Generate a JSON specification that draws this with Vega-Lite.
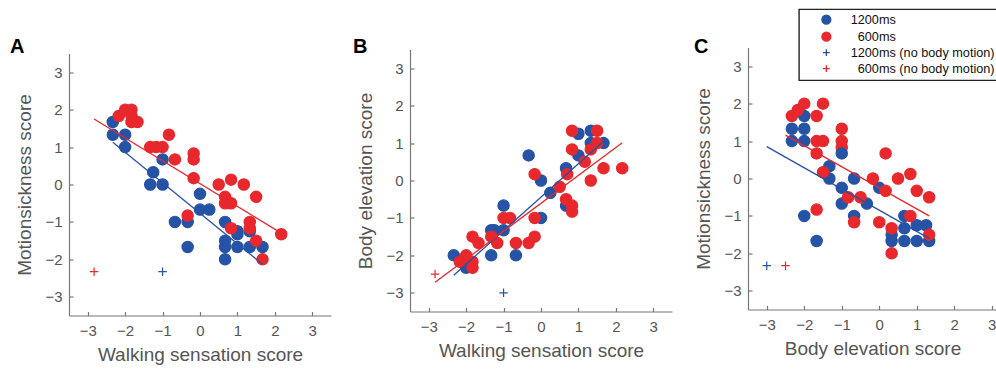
{
  "$schema": "https://vega.github.io/schema/vega-lite/v6.json",
  "padding": {"left": 10, "top": 8.5, "right": 0, "bottom": 0},
  "background": "white",
  "spacing": 22,
  "datasets": {
    "pts": [
      {"p":"A","g":"1200ms","x":-2.33,"y":1.67},{"p":"A","g":"1200ms","x":-2.33,"y":1.33},{"p":"A","g":"1200ms","x":-2,"y":1.33},{"p":"A","g":"1200ms","x":-2,"y":1},{"p":"A","g":"1200ms","x":-1,"y":0.67},{"p":"A","g":"1200ms","x":-1.25,"y":0.33},{"p":"A","g":"1200ms","x":-1.33,"y":0},{"p":"A","g":"1200ms","x":-1,"y":0},{"p":"A","g":"1200ms","x":0,"y":-0.25},{"p":"A","g":"1200ms","x":0,"y":-0.67},{"p":"A","g":"1200ms","x":0.25,"y":-0.67},{"p":"A","g":"1200ms","x":-0.67,"y":-1},{"p":"A","g":"1200ms","x":-0.33,"y":-1},{"p":"A","g":"1200ms","x":-0.33,"y":-1.67},{"p":"A","g":"1200ms","x":0.67,"y":-1},{"p":"A","g":"1200ms","x":0.67,"y":-1.5},{"p":"A","g":"1200ms","x":0.67,"y":-1.67},{"p":"A","g":"1200ms","x":0.67,"y":-2},{"p":"A","g":"1200ms","x":1,"y":-1.25},{"p":"A","g":"1200ms","x":1,"y":-1.33},{"p":"A","g":"1200ms","x":1,"y":-1.67},{"p":"A","g":"1200ms","x":1.33,"y":-1.25},{"p":"A","g":"1200ms","x":1.33,"y":-1.67},{"p":"A","g":"1200ms","x":1.67,"y":-1.67},
      {"p":"A","g":"1200ms (no body motion)","x":-1,"y":-2.33},
      {"p":"A","g":"\u200b\u2007600ms","x":-2.17,"y":1.83},{"p":"A","g":"\u200b\u2007600ms","x":-2,"y":2},{"p":"A","g":"\u200b\u2007600ms","x":-1.83,"y":2},{"p":"A","g":"\u200b\u2007600ms","x":-1.83,"y":1.83},{"p":"A","g":"\u200b\u2007600ms","x":-1.83,"y":1.67},{"p":"A","g":"\u200b\u2007600ms","x":-1.67,"y":1.67},{"p":"A","g":"\u200b\u2007600ms","x":-1.33,"y":1},{"p":"A","g":"\u200b\u2007600ms","x":-1.17,"y":1},{"p":"A","g":"\u200b\u2007600ms","x":-1,"y":1},{"p":"A","g":"\u200b\u2007600ms","x":-0.83,"y":1.33},{"p":"A","g":"\u200b\u2007600ms","x":-0.67,"y":0.67},{"p":"A","g":"\u200b\u2007600ms","x":-0.17,"y":0.83},{"p":"A","g":"\u200b\u2007600ms","x":-0.17,"y":0.67},{"p":"A","g":"\u200b\u2007600ms","x":-0.17,"y":0.17},{"p":"A","g":"\u200b\u2007600ms","x":-0.33,"y":-0.83},{"p":"A","g":"\u200b\u2007600ms","x":0.5,"y":0},{"p":"A","g":"\u200b\u2007600ms","x":0.83,"y":0.13},{"p":"A","g":"\u200b\u2007600ms","x":0.67,"y":-0.33},{"p":"A","g":"\u200b\u2007600ms","x":0.67,"y":-0.5},{"p":"A","g":"\u200b\u2007600ms","x":0.83,"y":-0.5},{"p":"A","g":"\u200b\u2007600ms","x":1.17,"y":0},{"p":"A","g":"\u200b\u2007600ms","x":1.5,"y":-0.33},{"p":"A","g":"\u200b\u2007600ms","x":1.33,"y":-1},{"p":"A","g":"\u200b\u2007600ms","x":1.33,"y":-1.17},{"p":"A","g":"\u200b\u2007600ms","x":0.83,"y":-1.17},{"p":"A","g":"\u200b\u2007600ms","x":1.5,"y":-1.5},{"p":"A","g":"\u200b\u2007600ms","x":1.67,"y":-2},{"p":"A","g":"\u200b\u2007600ms","x":2.17,"y":-1.33},
      {"p":"A","g":"\u200b\u2007600ms (no body motion)","x":-2.83,"y":-2.33},

      {"p":"B","g":"1200ms","x":-2.33,"y":-2},{"p":"B","g":"1200ms","x":-2,"y":-2.33},{"p":"B","g":"1200ms","x":-1.33,"y":-2},{"p":"B","g":"1200ms","x":-1.33,"y":-1.33},{"p":"B","g":"1200ms","x":-1.25,"y":-1.33},{"p":"B","g":"1200ms","x":-1,"y":-1.33},{"p":"B","g":"1200ms","x":-1,"y":-0.67},{"p":"B","g":"1200ms","x":-0.67,"y":-2},{"p":"B","g":"1200ms","x":-0.33,"y":0.67},{"p":"B","g":"1200ms","x":0,"y":0},{"p":"B","g":"1200ms","x":0,"y":-1},{"p":"B","g":"1200ms","x":0.25,"y":-0.33},{"p":"B","g":"1200ms","x":0.67,"y":0.33},{"p":"B","g":"1200ms","x":0.67,"y":-0.67},{"p":"B","g":"1200ms","x":1,"y":0.67},{"p":"B","g":"1200ms","x":1,"y":1.25},{"p":"B","g":"1200ms","x":1.33,"y":1.33},{"p":"B","g":"1200ms","x":1.33,"y":1},{"p":"B","g":"1200ms","x":1.67,"y":1},
      {"p":"B","g":"1200ms (no body motion)","x":-1,"y":-3},
      {"p":"B","g":"\u200b\u2007600ms","x":-2.17,"y":-2.17},{"p":"B","g":"\u200b\u2007600ms","x":-2,"y":-2},{"p":"B","g":"\u200b\u2007600ms","x":-1.83,"y":-2.17},{"p":"B","g":"\u200b\u2007600ms","x":-1.83,"y":-2.33},{"p":"B","g":"\u200b\u2007600ms","x":-1.83,"y":-1.5},{"p":"B","g":"\u200b\u2007600ms","x":-1.67,"y":-1.67},{"p":"B","g":"\u200b\u2007600ms","x":-1.33,"y":-1.5},{"p":"B","g":"\u200b\u2007600ms","x":-1.17,"y":-1.67},{"p":"B","g":"\u200b\u2007600ms","x":-1,"y":-1},{"p":"B","g":"\u200b\u2007600ms","x":-0.83,"y":-1},{"p":"B","g":"\u200b\u2007600ms","x":-0.67,"y":-1.67},{"p":"B","g":"\u200b\u2007600ms","x":-0.33,"y":-1.67},{"p":"B","g":"\u200b\u2007600ms","x":-0.17,"y":-1.5},{"p":"B","g":"\u200b\u2007600ms","x":-0.17,"y":-1},{"p":"B","g":"\u200b\u2007600ms","x":-0.17,"y":0.17},{"p":"B","g":"\u200b\u2007600ms","x":0.5,"y":-0.17},{"p":"B","g":"\u200b\u2007600ms","x":0.67,"y":-0.5},{"p":"B","g":"\u200b\u2007600ms","x":0.83,"y":-0.67},{"p":"B","g":"\u200b\u2007600ms","x":0.83,"y":-0.83},{"p":"B","g":"\u200b\u2007600ms","x":0.7,"y":0.17},{"p":"B","g":"\u200b\u2007600ms","x":0.83,"y":0.83},{"p":"B","g":"\u200b\u2007600ms","x":0.83,"y":1.33},{"p":"B","g":"\u200b\u2007600ms","x":1.17,"y":0.5},{"p":"B","g":"\u200b\u2007600ms","x":1.33,"y":0},{"p":"B","g":"\u200b\u2007600ms","x":1.33,"y":0.83},{"p":"B","g":"\u200b\u2007600ms","x":1.5,"y":1.33},{"p":"B","g":"\u200b\u2007600ms","x":1.5,"y":1},{"p":"B","g":"\u200b\u2007600ms","x":1.67,"y":0.33},{"p":"B","g":"\u200b\u2007600ms","x":2.17,"y":0.33},
      {"p":"B","g":"\u200b\u2007600ms (no body motion)","x":-2.83,"y":-2.5},

      {"p":"C","g":"\u200b\u2007600ms","x":-1,"y":0.83},
      {"p":"C","g":"1200ms","x":-2.33,"y":1.33},{"p":"C","g":"1200ms","x":-2.33,"y":1},{"p":"C","g":"1200ms","x":-2,"y":1.67},{"p":"C","g":"1200ms","x":-2,"y":1.33},{"p":"C","g":"1200ms","x":-2,"y":1},{"p":"C","g":"1200ms","x":-2,"y":-1},{"p":"C","g":"1200ms","x":-1.67,"y":-1.67},{"p":"C","g":"1200ms","x":-1.33,"y":0.33},{"p":"C","g":"1200ms","x":-1.33,"y":0},{"p":"C","g":"1200ms","x":-1,"y":0.67},{"p":"C","g":"1200ms","x":-1,"y":-0.25},{"p":"C","g":"1200ms","x":-1,"y":-0.67},{"p":"C","g":"1200ms","x":-0.67,"y":0},{"p":"C","g":"1200ms","x":-0.67,"y":-1},{"p":"C","g":"1200ms","x":-0.33,"y":-0.67},{"p":"C","g":"1200ms","x":0,"y":-0.25},{"p":"C","g":"1200ms","x":0.33,"y":-1.5},{"p":"C","g":"1200ms","x":0.33,"y":-1.67},{"p":"C","g":"1200ms","x":0.67,"y":-1},{"p":"C","g":"1200ms","x":0.67,"y":-1.33},{"p":"C","g":"1200ms","x":0.67,"y":-1.67},{"p":"C","g":"1200ms","x":1,"y":-1.25},{"p":"C","g":"1200ms","x":1,"y":-1.67},{"p":"C","g":"1200ms","x":1.25,"y":-1.25},{"p":"C","g":"1200ms","x":1.33,"y":-1.67},
      {"p":"C","g":"1200ms (no body motion)","x":-3,"y":-2.33},
      {"p":"C","g":"\u200b\u2007600ms","x":-2.33,"y":1.67},{"p":"C","g":"\u200b\u2007600ms","x":-2.17,"y":1.83},{"p":"C","g":"\u200b\u2007600ms","x":-2,"y":2},{"p":"C","g":"\u200b\u2007600ms","x":-1.5,"y":2},{"p":"C","g":"\u200b\u2007600ms","x":-1.67,"y":1.67},{"p":"C","g":"\u200b\u2007600ms","x":-1.67,"y":1},{"p":"C","g":"\u200b\u2007600ms","x":-1.5,"y":1},{"p":"C","g":"\u200b\u2007600ms","x":-1.67,"y":0.67},{"p":"C","g":"\u200b\u2007600ms","x":-1.5,"y":0.17},{"p":"C","g":"\u200b\u2007600ms","x":-1.67,"y":-0.83},{"p":"C","g":"\u200b\u2007600ms","x":-1,"y":1.33},{"p":"C","g":"\u200b\u2007600ms","x":-1,"y":1},{"p":"C","g":"\u200b\u2007600ms","x":-0.83,"y":-0.5},{"p":"C","g":"\u200b\u2007600ms","x":-0.5,"y":-0.5},{"p":"C","g":"\u200b\u2007600ms","x":-0.67,"y":-1.17},{"p":"C","g":"\u200b\u2007600ms","x":-0.17,"y":0},{"p":"C","g":"\u200b\u2007600ms","x":0.17,"y":0.67},{"p":"C","g":"\u200b\u2007600ms","x":0.17,"y":-0.33},{"p":"C","g":"\u200b\u2007600ms","x":0,"y":-1.17},{"p":"C","g":"\u200b\u2007600ms","x":0.33,"y":-1.33},{"p":"C","g":"\u200b\u2007600ms","x":0.33,"y":-2},{"p":"C","g":"\u200b\u2007600ms","x":0.5,"y":0},{"p":"C","g":"\u200b\u2007600ms","x":0.83,"y":0.12},{"p":"C","g":"\u200b\u2007600ms","x":0.83,"y":-1},{"p":"C","g":"\u200b\u2007600ms","x":1,"y":-0.33},{"p":"C","g":"\u200b\u2007600ms","x":1.33,"y":-0.5},{"p":"C","g":"\u200b\u2007600ms","x":1.33,"y":-1.5},
      {"p":"C","g":"\u200b\u2007600ms (no body motion)","x":-2.5,"y":-2.33}
    ],
    "lines": [
      {"p":"A","g":"1200ms","x":-2.33,"y":1.13},{"p":"A","g":"1200ms","x":1.67,"y":-2.13},
      {"p":"A","g":"600ms","x":-2.83,"y":1.75},{"p":"A","g":"600ms","x":2.17,"y":-1.3},
      {"p":"B","g":"1200ms","x":-2.33,"y":-2.53},{"p":"B","g":"1200ms","x":1.67,"y":1.05},
      {"p":"B","g":"600ms","x":-2.83,"y":-2.72},{"p":"B","g":"600ms","x":2.17,"y":1.01},
      {"p":"C","g":"1200ms","x":-3,"y":0.85},{"p":"C","g":"1200ms","x":1.33,"y":-1.6},
      {"p":"C","g":"600ms","x":-2.5,"y":1.16},{"p":"C","g":"600ms","x":1.33,"y":-1.0}
    ]
  },
  "config": {
    "view": {"stroke": null},
    "font": "Liberation Sans",
    "axis": {"grid": false, "domainColor": "#777777", "domainWidth": 1.2, "tickColor": "#777777", "tickWidth": 1.2, "tickSize": -4, "labelFontSize": 15, "labelColor": "#555555", "titleFontSize": 19, "titleFontWeight": "normal", "titleColor": "#555555"},
    "axisX": {"labelPadding": 12, "titlePadding": 7},
    "axisY": {"labelPadding": 11, "titlePadding": 10},
    "title": {"fontSize": 20, "fontWeight": "bold", "color": "#000000", "anchor": "start", "frame": "group", "offset": -9.3},
    "legend": {"orient": "none", "legendX": 730, "legendY": -38.2, "strokeColor": "#222222", "strokeWidth": 1.4, "fillColor": "#ffffff", "padding": 4, "symbolOffset": 17, "labelOffset": 18, "labelFontSize": 12.7, "labelColor": "#111111", "rowPadding": 2, "symbolSize": 80, "symbolStrokeWidth": 1.3, "symbolOpacity": 1}
  },
  "hconcat": [
    {
      "title": {"text": "A", "dx": -59},
      "spacing": 0,
      "vconcat": [
        {"width": 262, "height": 5.6, "data": {"values": []}, "mark": "point"},
        {
          "width": 262, "height": 262,
          "layer": [
            {"data": {"name": "pts"}, "transform": [{"filter": "datum.p === 'A'"}],
             "mark": {"type": "point", "filled": true, "opacity": 1, "size": 128, "strokeWidth": 1.2},
             "encoding": {
               "x": {"field": "x", "type": "quantitative", "scale": {"domain": [-3.5, 3.5], "nice": false, "zero": false}, "axis": {"title": "Walking sensation score", "values": [-3,-2,-1,0,1,2,3]}},
               "y": {"field": "y", "type": "quantitative", "scale": {"domain": [-3.5, 3.5], "nice": false, "zero": false}, "axis": {"title": "Motionsickness score", "values": [-3,-2,-1,0,1,2,3]}},
               "color": {"field": "g", "type": "nominal", "legend": {"title": null}, "scale": {"domain": ["1200ms","\u200b\u2007600ms","1200ms (no body motion)","\u200b\u2007600ms (no body motion)"], "range": ["#2553a5","#e8282c","#2553a5","#e8282c"]}},
               "stroke": {"field": "g", "type": "nominal", "legend": {"title": null}, "scale": {"domain": ["1200ms","\u200b\u2007600ms","1200ms (no body motion)","\u200b\u2007600ms (no body motion)"], "range": ["#2553a5","#e8282c","#2553a5","#e8282c"]}},
               "shape": {"field": "g", "type": "nominal", "legend": {"title": null}, "scale": {"domain": ["1200ms","\u200b\u2007600ms","1200ms (no body motion)","\u200b\u2007600ms (no body motion)"], "range": ["circle","circle","M-0.75,0H0.75M0,-0.75V0.75","M-0.75,0H0.75M0,-0.75V0.75"]}}
             }},
            {"data": {"name": "lines"}, "transform": [{"filter": "datum.p === 'A' && datum.g === '1200ms'"}],
             "mark": {"type": "line", "color": "#2553a5", "strokeWidth": 1.3},
             "encoding": {"x": {"field": "x", "type": "quantitative"}, "y": {"field": "y", "type": "quantitative"}}},
            {"data": {"name": "lines"}, "transform": [{"filter": "datum.p === 'A' && datum.g === '600ms'"}],
             "mark": {"type": "line", "color": "#e8282c", "strokeWidth": 1.3},
             "encoding": {"x": {"field": "x", "type": "quantitative"}, "y": {"field": "y", "type": "quantitative"}}}
          ]
        }
      ]
    },
    {
      "title": {"text": "B", "dx": -57},
      "spacing": 0,
      "vconcat": [
        {"width": 262, "height": 1.9, "data": {"values": []}, "mark": "point"},
        {
          "width": 262, "height": 262,
          "layer": [
            {"data": {"name": "pts"}, "transform": [{"filter": "datum.p === 'B'"}],
             "mark": {"type": "point", "filled": true, "opacity": 1, "size": 128, "strokeWidth": 1.2},
             "encoding": {
               "x": {"field": "x", "type": "quantitative", "scale": {"domain": [-3.5, 3.5], "nice": false, "zero": false}, "axis": {"title": "Walking sensation score", "values": [-3,-2,-1,0,1,2,3]}},
               "y": {"field": "y", "type": "quantitative", "scale": {"domain": [-3.5, 3.5], "nice": false, "zero": false}, "axis": {"title": "Body elevation score", "values": [-3,-2,-1,0,1,2,3]}},
               "color": {"field": "g", "type": "nominal", "legend": {"title": null}, "scale": {"domain": ["1200ms","\u200b\u2007600ms","1200ms (no body motion)","\u200b\u2007600ms (no body motion)"], "range": ["#2553a5","#e8282c","#2553a5","#e8282c"]}},
               "stroke": {"field": "g", "type": "nominal", "legend": {"title": null}, "scale": {"domain": ["1200ms","\u200b\u2007600ms","1200ms (no body motion)","\u200b\u2007600ms (no body motion)"], "range": ["#2553a5","#e8282c","#2553a5","#e8282c"]}},
               "shape": {"field": "g", "type": "nominal", "legend": {"title": null}, "scale": {"domain": ["1200ms","\u200b\u2007600ms","1200ms (no body motion)","\u200b\u2007600ms (no body motion)"], "range": ["circle","circle","M-0.75,0H0.75M0,-0.75V0.75","M-0.75,0H0.75M0,-0.75V0.75"]}}
             }},
            {"data": {"name": "lines"}, "transform": [{"filter": "datum.p === 'B' && datum.g === '1200ms'"}],
             "mark": {"type": "line", "color": "#2553a5", "strokeWidth": 1.3},
             "encoding": {"x": {"field": "x", "type": "quantitative"}, "y": {"field": "y", "type": "quantitative"}}},
            {"data": {"name": "lines"}, "transform": [{"filter": "datum.p === 'B' && datum.g === '600ms'"}],
             "mark": {"type": "line", "color": "#e8282c", "strokeWidth": 1.3},
             "encoding": {"x": {"field": "x", "type": "quantitative"}, "y": {"field": "y", "type": "quantitative"}}}
          ]
        }
      ]
    },
    {
      "width": 249, "height": 262,
      "title": {"text": "C", "dx": -54},
      "layer": [
        {"data": {"name": "pts"}, "transform": [{"filter": "datum.p === 'C'"}],
         "mark": {"type": "point", "filled": true, "opacity": 1, "size": 128, "strokeWidth": 1.2},
         "encoding": {
           "x": {"field": "x", "type": "quantitative", "scale": {"domain": [-3.5, 3.14], "nice": false, "zero": false}, "axis": {"title": "Body elevation score", "values": [-3,-2,-1,0,1,2,3]}},
           "y": {"field": "y", "type": "quantitative", "scale": {"domain": [-3.5, 3.5], "nice": false, "zero": false}, "axis": {"title": "Motionsickness score", "values": [-3,-2,-1,0,1,2,3]}},
           "color": {"field": "g", "type": "nominal", "legend": {"title": null}, "scale": {"domain": ["1200ms","\u200b\u2007600ms","1200ms (no body motion)","\u200b\u2007600ms (no body motion)"], "range": ["#2553a5","#e8282c","#2553a5","#e8282c"]}},
           "stroke": {"field": "g", "type": "nominal", "legend": {"title": null}, "scale": {"domain": ["1200ms","\u200b\u2007600ms","1200ms (no body motion)","\u200b\u2007600ms (no body motion)"], "range": ["#2553a5","#e8282c","#2553a5","#e8282c"]}},
           "shape": {"field": "g", "type": "nominal", "legend": {"title": null}, "scale": {"domain": ["1200ms","\u200b\u2007600ms","1200ms (no body motion)","\u200b\u2007600ms (no body motion)"], "range": ["circle","circle","M-0.75,0H0.75M0,-0.75V0.75","M-0.75,0H0.75M0,-0.75V0.75"]}}
         }},
        {"data": {"name": "lines"}, "transform": [{"filter": "datum.p === 'C' && datum.g === '1200ms'"}],
         "mark": {"type": "line", "color": "#2553a5", "strokeWidth": 1.3},
         "encoding": {"x": {"field": "x", "type": "quantitative"}, "y": {"field": "y", "type": "quantitative"}}},
        {"data": {"name": "lines"}, "transform": [{"filter": "datum.p === 'C' && datum.g === '600ms'"}],
         "mark": {"type": "line", "color": "#e8282c", "strokeWidth": 1.3},
         "encoding": {"x": {"field": "x", "type": "quantitative"}, "y": {"field": "y", "type": "quantitative"}}}
      ]
    }
  ]
}
